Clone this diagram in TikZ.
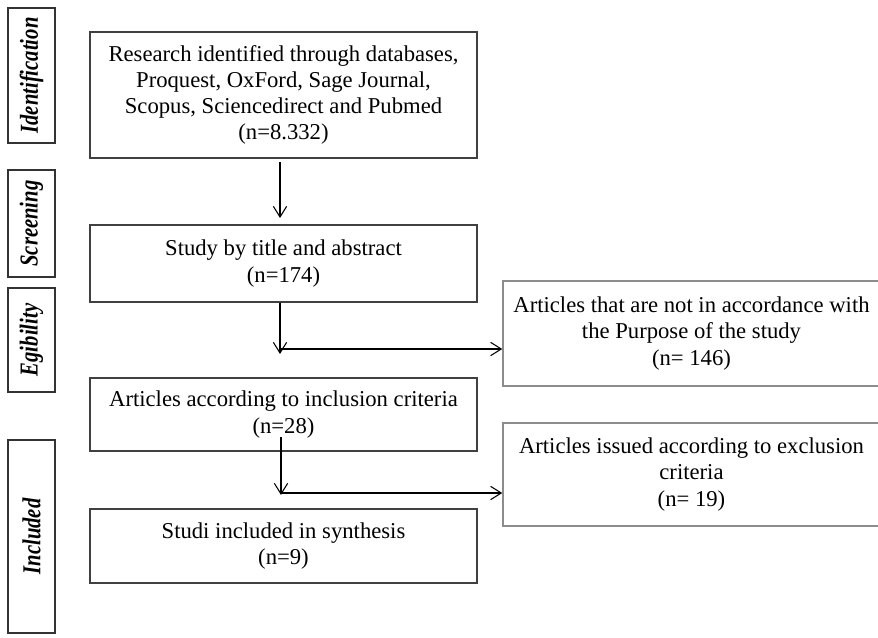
\documentclass[tikz,border=0pt]{standalone}
\usepackage{fontspec}
\setmainfont{Liberation Serif}
\usetikzlibrary{arrows.meta,calc}
\begin{document}
\begin{tikzpicture}[x=0.75pt,y=-0.75pt,
  mainbox/.style={draw=black!75,line width=0.8pt,inner sep=0pt,align=center,
    font=\fontsize{17}{19.6}\selectfont,minimum width=387*0.75pt},
  sidebox/.style={draw=black!45,line width=1.1pt,inner sep=0pt,align=center,
    font=\fontsize{17}{19.6}\selectfont,minimum width=377*0.75pt},
  lbl/.style={draw=black!80,line width=0.8pt,inner sep=0pt,rotate=90,
    minimum height=47*0.75pt,font=\fontsize{15.5}{18}\selectfont\bfseries\itshape},
  arr/.style={-{Straight Barb[length=8pt,width=10pt]},line width=0.8pt,black}]
\useasboundingbox (0,0) rectangle (878,638);
\clip (0,0) rectangle (878,638);
% stage labels
\node[lbl,minimum width=135*0.75pt] (lid) at (31.5,75.5) {\scalebox{1}[1.25]{Identification}};
\node[lbl,minimum width=107*0.75pt] (lsc) at (31.5,223.5) {\scalebox{1}[1.25]{Screening}};
\node[lbl,minimum width=104*0.75pt] (leg) at (31.5,340) {\scalebox{1}[1.25]{Egibility}};
\node[lbl,minimum width=193*0.75pt] (lin) at (31.5,536.5) {\scalebox{1}[1.25]{Included}};
% main boxes
\node[mainbox,minimum height=126*0.75pt] (b1) at (283.5,95)
  {Research identified through databases,\\Proquest, OxFord, Sage Journal,\\Scopus, Sciencedirect and Pubmed\\(n=8.332)};
\node[mainbox,minimum height=77*0.75pt] (b2) at (283.5,263.5)
  {Study by title and abstract\\(n=174)};
\node[mainbox,minimum height=73*0.75pt] (b3) at (283.5,414.5)
  {Articles according to inclusion criteria\\(n=28)};
\node[mainbox,minimum height=74*0.75pt] (b4) at (283.5,546)
  {Studi included in synthesis\\(n=9)};
% side boxes
\node[sidebox,minimum height=105*0.75pt] (r1) at (691.5,333.5)
  {Articles that are not in accordance with\\the Purpose of the study\\(n= 146)};
\node[sidebox,minimum height=103*0.75pt] (r2) at (691.5,474.5)
  {Articles issued according to exclusion\\criteria\\(n= 19)};
% connectors
\coordinate (a1s) at (280,162);
\coordinate (a1e) at (280,218);
\draw[arr] (a1s) -- (a1e);
\coordinate (d1) at (280,354);
\coordinate (j1) at (280,349);
\draw[arr] (b2.south -| d1) -- (d1);
\draw[arr] (j1) -- (j1 -| r1.west);
\coordinate (s2) at (281,437);
\coordinate (d2) at (281,495);
\coordinate (j2) at (281,493);
\draw[arr] (s2) -- (d2);
\draw[arr] (j2) -- (j2 -| r2.west);
\end{tikzpicture}
\end{document}
